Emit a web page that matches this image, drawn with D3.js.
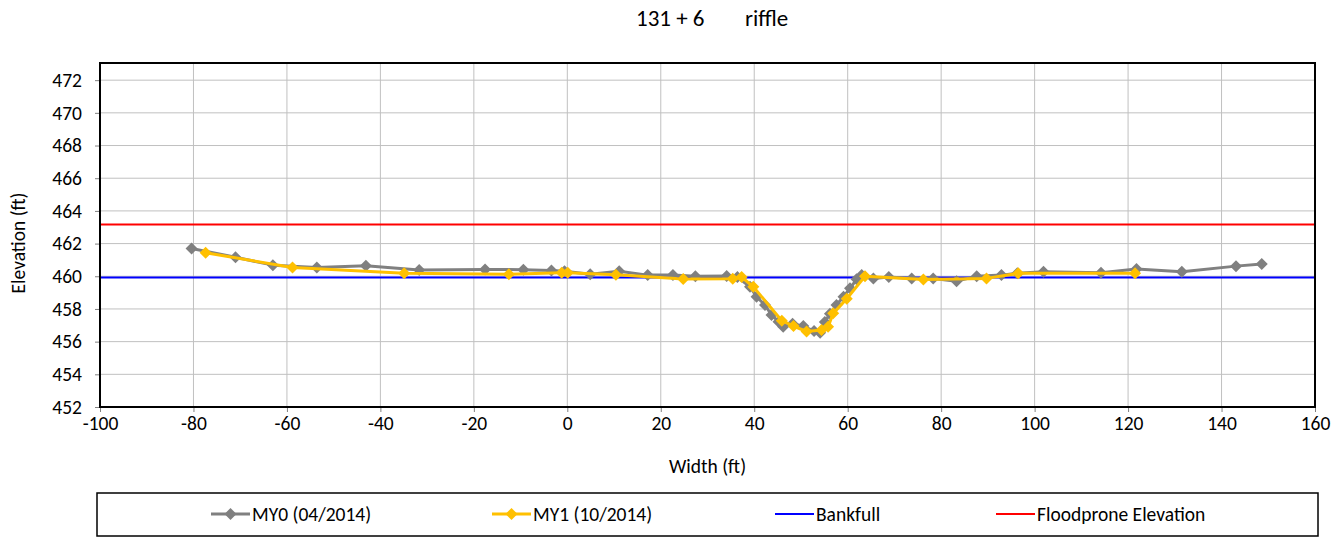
<!DOCTYPE html>
<html>
<head>
<meta charset="utf-8">
<script src="https://cdn.jsdelivr.net/npm/d3@7"></script>
<style>
  body { margin: 0; background: #fff; }
  svg text { font-family: Carlito, Lato, "Liberation Sans", sans-serif; fill: #000; }
</style>
</head>
<body>
<div id="chart"></div>
<script>
// cross-section survey data
const my0X = [-80.4, -71.0, -63.0, -53.6, -43.1, -31.7, -17.6, -9.4, -3.4, -0.6, 4.9, 11.1, 17.2, 22.6, 27.4, 34.1, 36.4, 39.1, 40.5, 42.3, 43.7, 45.2, 46.2, 48.2, 50.5, 52.8, 54.1, 55.1, 56.2, 57.6, 59.1, 60.5, 61.9, 63.0, 65.5, 68.8, 73.7, 78.3, 83.3, 87.6, 92.9, 96.3, 101.9, 114.2, 121.8, 131.5, 143.1, 148.6];
const my0Y = [461.7, 461.16, 460.68, 460.54, 460.64, 460.38, 460.42, 460.4, 460.35, 460.3, 460.13, 460.3, 460.07, 460.07, 460.0, 460.02, 459.95, 459.36, 458.75, 458.24, 457.63, 457.22, 456.91, 457.1, 456.95, 456.65, 456.55, 457.2, 457.7, 458.24, 458.75, 459.26, 459.81, 460.07, 459.87, 459.95, 459.87, 459.87, 459.7, 460.0, 460.07, 460.18, 460.28, 460.22, 460.44, 460.28, 460.62, 460.75];
const my1X = [-77.4, -58.8, -34.9, -12.5, -1.2, 0.1, 10.4, 24.8, 35.4, 37.3, 39.8, 45.9, 48.4, 51.2, 54.4, 55.8, 56.9, 59.8, 63.7, 76.2, 89.7, 96.5, 121.5];
const my1Y = [461.44, 460.54, 460.18, 460.13, 460.22, 460.22, 460.1, 459.83, 459.85, 459.95, 459.36, 457.28, 456.95, 456.62, 456.71, 456.91, 457.73, 458.62, 460.0, 459.8, 459.87, 460.18, 460.18];
const bankfull = 459.93;
const floodprone = 463.17;
const xTicks = d3.range(-100, 161, 20);
const yTicks = d3.range(452, 473, 2);

const W = 1335, H = 547;
const margin = { top: 63, right: 20, bottom: 140, left: 100 };
const width = W - margin.left - margin.right;
const height = H - margin.top - margin.bottom;
const font = 'Carlito, Lato, "Liberation Sans", sans-serif';

const root = d3.select('#chart').append('svg').attr('width', W).attr('height', H);
const svg = root.append('g').attr('transform', `translate(${margin.left},${margin.top})`);

const x = d3.scaleLinear().domain([-100, 160]).range([0, width]);
const y = d3.scaleLinear().domain([452, 473.05]).range([height, 0]);

// grid
svg.append('g').selectAll('line').data(xTicks).enter().append('line')
  .attr('x1', d => x(d)).attr('x2', d => x(d)).attr('y1', 0).attr('y2', height)
  .attr('stroke', '#c0c0c0').attr('stroke-width', 1);
svg.append('g').selectAll('line').data(yTicks).enter().append('line')
  .attr('x1', 0).attr('x2', width).attr('y1', d => y(d)).attr('y2', d => y(d))
  .attr('stroke', '#c0c0c0').attr('stroke-width', 1);

// axes
const xAxis = svg.append('g').attr('transform', `translate(0,${height})`)
  .call(d3.axisBottom(x).tickValues(xTicks).tickFormat(d => String(d)).tickSize(5).tickPadding(4));
const yAxis = svg.append('g')
  .call(d3.axisLeft(y).tickValues(yTicks).tickFormat(d => String(d)).tickSize(5).tickPadding(13));
[xAxis, yAxis].forEach(a => {
  a.select('.domain').remove();
  a.selectAll('line').attr('stroke', '#808080');
  a.selectAll('text').attr('font-size', '19.5px').attr('fill', '#000').style('font-family', font);
});

// reference lines
svg.append('line').attr('x1', 0).attr('x2', width).attr('y1', y(floodprone)).attr('y2', y(floodprone))
  .attr('stroke', '#ff0000').attr('stroke-width', 2);
svg.append('line').attr('x1', 0).attr('x2', width).attr('y1', y(bankfull)).attr('y2', y(bankfull))
  .attr('stroke', '#0000ff').attr('stroke-width', 2);

const line = d3.line().x(d => x(d[0])).y(d => y(d[1]));
const diamond = d3.symbol().type(d3.symbolSquare).size(72)();

function drawSeries(xs, ys, color) {
  const pts = xs.map((v, i) => [v, ys[i]]);
  svg.append('path').datum(pts).attr('fill', 'none').attr('stroke', color)
    .attr('stroke-width', 3).attr('stroke-linejoin', 'round').attr('d', line);
  svg.append('g').selectAll('path').data(pts).enter().append('path')
    .attr('d', diamond)
    .attr('transform', d => `translate(${x(d[0])},${y(d[1])}) rotate(45)`)
    .attr('fill', color);
}
drawSeries(my0X, my0Y, '#808080');
drawSeries(my1X, my1Y, '#ffc000');

// frame
svg.append('rect').attr('width', width).attr('height', height)
  .attr('fill', 'none').attr('stroke', '#000').attr('stroke-width', 2);

// titles
root.append('text').attr('x', 636).attr('y', 26).attr('font-size', '23px').text('131 + 6');
root.append('text').attr('x', 745).attr('y', 26).attr('font-size', '23px').text('riffle');
root.append('text').attr('x', margin.left + width / 2).attr('y', 473).attr('text-anchor', 'middle')
  .attr('font-size', '19.5px').text('Width (ft)');
root.append('text').attr('transform', `translate(25,${margin.top + height / 2 + 8}) rotate(-90)`)
  .attr('text-anchor', 'middle').attr('font-size', '19.5px').text('Elevation (ft)');

// legend
const legendItems = [
  { name: 'MY0 (04/2014)', color: '#808080', marker: true, x: 211 },
  { name: 'MY1 (10/2014)', color: '#ffc000', marker: true, x: 492 },
  { name: 'Bankfull', color: '#0000ff', marker: false, x: 775 },
  { name: 'Floodprone Elevation', color: '#ff0000', marker: false, x: 996 }
];
root.append('rect').attr('x', 97).attr('y', 493).attr('width', 1221).attr('height', 43)
  .attr('fill', '#fff').attr('stroke', '#000').attr('stroke-width', 1.5);
const lg = root.append('g').selectAll('g').data(legendItems).enter().append('g')
  .attr('transform', d => `translate(${d.x},514)`);
lg.append('line').attr('x1', 0).attr('x2', 39).attr('stroke', d => d.color)
  .attr('stroke-width', d => d.marker ? 3 : 2);
lg.filter(d => d.marker).append('path')
  .attr('d', diamond)
  .attr('transform', 'translate(19.5,0) rotate(45)').attr('fill', d => d.color);
lg.append('text').attr('x', 41).attr('y', 7).attr('font-size', '19.5px').text(d => d.name);
</script>
</body>
</html>
